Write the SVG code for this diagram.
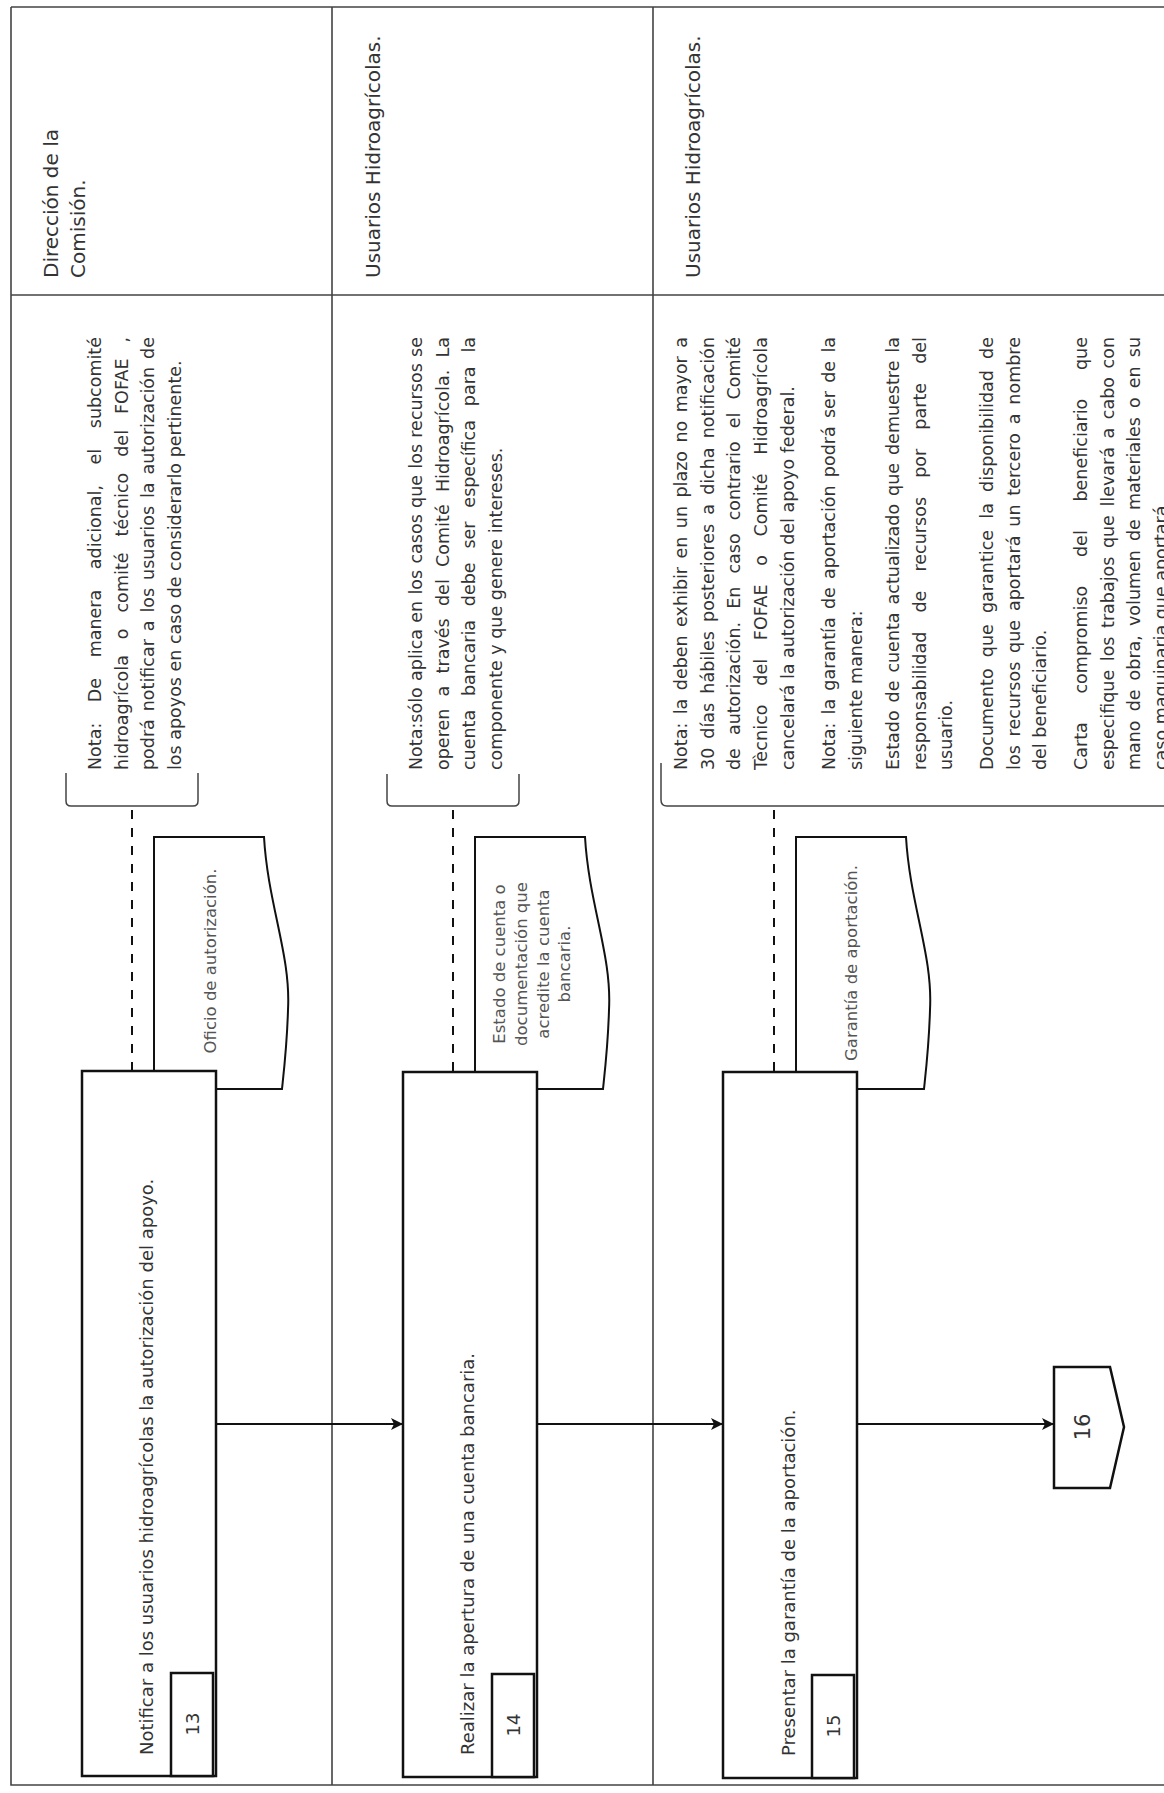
<svg xmlns="http://www.w3.org/2000/svg" width="1164" height="1793" viewBox="0 0 1164 1793">
<style>
text{font-family:"DejaVu Sans","Liberation Sans",sans-serif;fill:#333}
.hdr{font-size:20px}
.proc{font-size:18px}
.note{font-size:17.5px}
.doc{font-size:16.5px;fill:#555;text-anchor:middle}
.num{font-size:18px;text-anchor:middle;dominant-baseline:central}
.frame{stroke:#444;stroke-width:1.6;fill:none}
.box{fill:#fff;stroke:#111;stroke-width:2.5}
.docshape{fill:#fff;stroke:#111;stroke-width:2}
.brk{fill:none;stroke:#444;stroke-width:1.5}
.dash{stroke:#111;stroke-width:2;stroke-dasharray:9 9;fill:none}
.arrow{stroke:#111;stroke-width:2;fill:none;marker-end:url(#ah)}
</style>
<defs>
<marker id="ah" markerUnits="userSpaceOnUse" markerWidth="12" markerHeight="12" refX="12" refY="6" orient="auto">
<path d="M0,0 L12,6 L0,12 L3,6 Z" fill="#111"/>
</marker>
</defs>
<rect width="1164" height="1793" fill="#fff"/>

<g id="frame">
<path class="frame" d="M11,7 H1164 M11,7 V1785 H1164 M11,295 H1164 M332,7 V1785 M653,7 V1785"/>
</g>

<g id="lane1-header">
<text class="hdr" transform="translate(58 278) rotate(-90)">Dirección de la</text>
<text class="hdr" transform="translate(85 278) rotate(-90)">Comisión.</text>
</g>
<g id="lane2-header">
<text class="hdr" transform="translate(380 278) rotate(-90)">Usuarios Hidroagrícolas.</text>
</g>
<g id="lane3-header">
<text class="hdr" transform="translate(700 278) rotate(-90)">Usuarios Hidroagrícolas.</text>
</g>

<g id="note13">
<path class="brk" d="M66,773 V801 Q66,806 71,806 H193 Q198,806 198,801 V773"/>
<text class="note" transform="translate(101 770) rotate(-90)" word-spacing="15" textLength="433" lengthAdjust="spacing">Nota: De manera adicional, el subcomité</text>
<text class="note" transform="translate(127.7 770) rotate(-90)" word-spacing="10.25" textLength="433" lengthAdjust="spacing">hidroagrícola o comité técnico del FOFAE ,</text>
<text class="note" transform="translate(154.4 770) rotate(-90)" word-spacing="2.37" textLength="433" lengthAdjust="spacing">podrá notificar a los usuarios la autorización de</text>
<text class="note" transform="translate(181.1 770) rotate(-90)">los apoyos en caso de considerarlo pertinente.</text>
</g>

<g id="note14">
<path class="brk" d="M387,774 V801 Q387,806 392,806 H514 Q519,806 519,801 V774"/>
<text class="note" transform="translate(422 770) rotate(-90)" word-spacing="0.7" textLength="433" lengthAdjust="spacing">Nota:sólo aplica en los casos que los recursos se</text>
<text class="note" transform="translate(448.7 770) rotate(-90)" word-spacing="6.67" textLength="433" lengthAdjust="spacing">operen a través del Comité Hidroagrícola. La</text>
<text class="note" transform="translate(475.4 770) rotate(-90)" word-spacing="8.27" textLength="433" lengthAdjust="spacing">cuenta bancaria debe ser específica para la</text>
<text class="note" transform="translate(502.1 770) rotate(-90)">componente y que genere intereses.</text>
</g>

<g id="note15">
<path class="brk" d="M661,763 V800 Q661,806 667,806 H1164"/>
<text class="note" transform="translate(687 770) rotate(-90)" word-spacing="2.86" textLength="433" lengthAdjust="spacing">Nota: la deben exhibir en un plazo no mayor a</text>
<text class="note" transform="translate(713.7 770) rotate(-90)" word-spacing="3.53" textLength="433" lengthAdjust="spacing">30 días hábiles posteriores a dicha notificación</text>
<text class="note" transform="translate(740.4 770) rotate(-90)" word-spacing="7.52" textLength="433" lengthAdjust="spacing">de autorización. En caso contrario el Comité</text>
<text class="note" transform="translate(767.1 770) rotate(-90)" word-spacing="12.8" textLength="433" lengthAdjust="spacing">Tècnico del FOFAE o Comité Hidroagrícola</text>
<text class="note" transform="translate(793.8 770) rotate(-90)">cancelará la autorización del apoyo federal.</text>
<text class="note" transform="translate(835 770) rotate(-90)" word-spacing="2.68" textLength="433" lengthAdjust="spacing">Nota: la garantía de aportación podrá ser de la</text>
<text class="note" transform="translate(861.7 770) rotate(-90)">siguiente manera:</text>
<text class="note" transform="translate(899 770) rotate(-90)" word-spacing="2.37" textLength="433" lengthAdjust="spacing">Estado de cuenta actualizado que demuestre la</text>
<text class="note" transform="translate(925.7 770) rotate(-90)" word-spacing="13.56" textLength="433" lengthAdjust="spacing">responsabilidad de recursos por parte del</text>
<text class="note" transform="translate(952.4 770) rotate(-90)">usuario.</text>
<text class="note" transform="translate(993 770) rotate(-90)" word-spacing="5.52" textLength="433" lengthAdjust="spacing">Documento que garantice la disponibilidad de</text>
<text class="note" transform="translate(1019.7 770) rotate(-90)" word-spacing="3.2" textLength="433" lengthAdjust="spacing">los recursos que aportará un tercero a nombre</text>
<text class="note" transform="translate(1046.4 770) rotate(-90)">del beneficiario.</text>
<text class="note" transform="translate(1087 770) rotate(-90)" word-spacing="23.1" textLength="433" lengthAdjust="spacing">Carta compromiso del beneficiario que</text>
<text class="note" transform="translate(1113.7 770) rotate(-90)" word-spacing="3" textLength="433" lengthAdjust="spacing">especifique los trabajos que llevará a cabo con</text>
<text class="note" transform="translate(1140.4 770) rotate(-90)" word-spacing="3.5" textLength="433" lengthAdjust="spacing">mano de obra, volumen de materiales o en su</text>
<text class="note" transform="translate(1167 770) rotate(-90)">caso maquinaria que aportará.</text>
</g>

<g id="doc13">
<path class="docshape" d="M154,837 H264 C268,905 291,955 288,1010 C287,1045 284,1070 282,1089 H154 Z"/>
<text class="doc" transform="translate(216 961) rotate(-90)">Oficio de autorización.</text>
</g>
<g id="doc14">
<path class="docshape" d="M475,837 H585 C589,905 612,955 609,1010 C608,1045 605,1070 603,1089 H475 Z"/>
<text class="doc" transform="translate(505 964) rotate(-90)">Estado de cuenta o</text>
<text class="doc" transform="translate(527 964) rotate(-90)">documentación que</text>
<text class="doc" transform="translate(548.5 964) rotate(-90)">acredite la cuenta</text>
<text class="doc" transform="translate(570 964) rotate(-90)">bancaria.</text>
</g>
<g id="doc15">
<path class="docshape" d="M796,837 H906 C910,905 933,955 930,1010 C929,1045 926,1070 924,1089 H796 Z"/>
<text class="doc" transform="translate(857 963) rotate(-90)">Garantía de aportación.</text>
</g>

<g id="connectors">
<path class="dash" d="M132,810 V1071"/>
<path class="dash" d="M453,810 V1071"/>
<path class="dash" d="M774,810 V1071"/>
<path class="arrow" d="M216,1424 H403"/>
<path class="arrow" d="M537,1424 H723"/>
<path class="arrow" d="M857,1424 H1054"/>
</g>

<g id="node13">
<rect class="box" x="82" y="1071" width="134" height="705"/>
<text class="proc" transform="translate(153 1755) rotate(-90)">Notificar a los usuarios hidroagrícolas la autorización del apoyo.</text>
<rect class="box" x="171" y="1673" width="42" height="103"/>
<text class="num" transform="translate(192 1724) rotate(-90)">13</text>
</g>
<g id="node14">
<rect class="box" x="403" y="1072" width="134" height="705"/>
<text class="proc" transform="translate(474 1755) rotate(-90)">Realizar la apertura de una cuenta bancaria.</text>
<rect class="box" x="492" y="1674" width="42" height="103"/>
<text class="num" transform="translate(513 1725) rotate(-90)">14</text>
</g>
<g id="node15">
<rect class="box" x="723" y="1072" width="134" height="706"/>
<text class="proc" transform="translate(795 1756) rotate(-90)">Presentar la garantía de la aportación.</text>
<rect class="box" x="812" y="1675" width="42" height="103"/>
<text class="num" transform="translate(833 1726) rotate(-90)">15</text>
</g>
<g id="node16">
<path class="box" d="M1054,1367 H1110 L1124,1427 L1110,1488 H1054 Z"/>
<text class="num" style="font-size:21px" transform="translate(1083 1427) rotate(-90)">16</text>
</g>
</svg>
